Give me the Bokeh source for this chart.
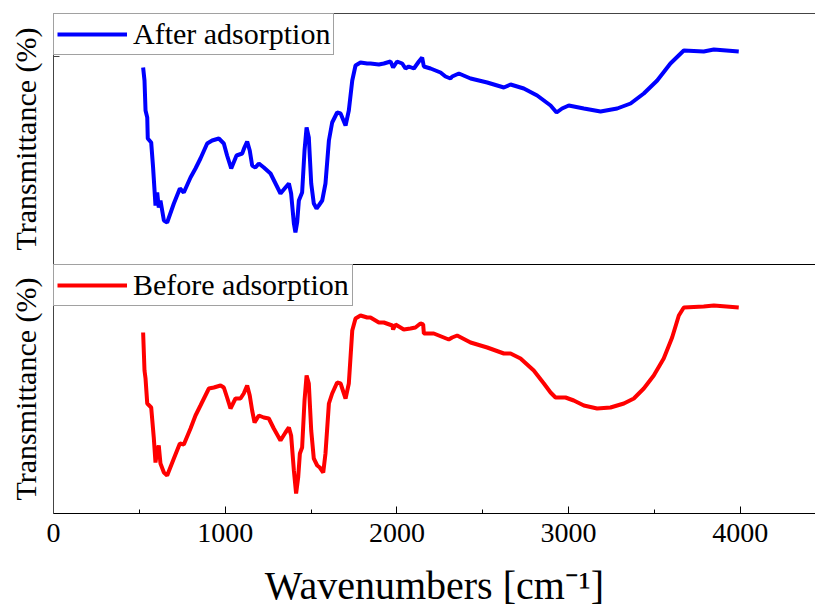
from bokeh.plotting import figure
from bokeh.layouts import column
from bokeh.models import Range1d, LinearAxis, FixedTicker
from bokeh.embed import file_html
from bokeh.resources import INLINE

# ---- data ----
after_wn = [522, 530, 536, 546, 549, 569, 580, 594, 604, 613, 623, 643, 662, 701, 736, 759,
            798, 827, 856, 895, 924, 963, 992, 1011, 1035, 1066, 1099, 1112, 1128, 1143, 1157,
            1176, 1196, 1225, 1264, 1293, 1322, 1351, 1371, 1384, 1400, 1409, 1419, 1429, 1448,
            1462, 1474, 1487, 1501, 1516, 1532, 1545, 1565, 1584, 1604, 1623, 1652, 1672, 1701,
            1720, 1740, 1759, 1788, 1827, 1846, 1895, 1924, 1963, 1978, 2001, 2031, 2050, 2069,
            2099, 2128, 2147, 2157, 2196, 2254, 2283, 2312, 2322, 2361, 2429, 2526, 2623, 2662,
            2739, 2817, 2895, 2930, 2962, 3001, 3089, 3186, 3283, 3361, 3438, 3516, 3593, 3671,
            3787, 3846, 3991]
after_t = [197, 184, 154, 147, 126, 122, 97, 59, 72, 57, 64, 44, 42, 61, 76, 72,
           87, 96, 106, 121, 124, 126, 121, 109, 96, 109, 111, 117, 123, 114, 99,
           97, 101, 97, 91, 81, 71, 77, 81, 71, 41, 32, 42, 64, 72,
           114, 137, 127, 81, 61, 56, 59, 64, 81, 124, 142, 152, 151, 139,
           154, 184, 199, 202, 201, 201, 200, 201, 203, 197, 203, 201, 196, 198,
           196, 203, 207, 198, 196, 192, 188, 186, 188, 191, 186, 182, 177, 180,
           176, 169, 159, 152, 156, 159, 156, 153, 156, 161, 171, 184, 201, 214,
           213, 215, 213]

before_wn = [522, 530, 536, 546, 569, 584, 594, 604, 613, 623, 643, 662, 701, 736, 759,
             798, 827, 856, 905, 934, 973, 992, 1011, 1031, 1060, 1089, 1108, 1128, 1143,
             1157, 1171, 1196, 1225, 1254, 1283, 1322, 1351, 1371, 1384, 1400, 1413, 1425,
             1435, 1448, 1462, 1474, 1487, 1501, 1516, 1536, 1551, 1571, 1584, 1604, 1623,
             1652, 1672, 1701, 1720, 1740, 1759, 1788, 1827, 1846, 1895, 1924, 1973, 1978,
             1992, 2040, 2079, 2108, 2137, 2153, 2157, 2215, 2273, 2302, 2322, 2351, 2429,
             2526, 2623, 2662, 2720, 2797, 2856, 2895, 2924, 2953, 2982, 3030, 3089, 3166,
             3244, 3322, 3380, 3438, 3496, 3554, 3603, 3642, 3671, 3787, 3846, 3991]
before_t = [181, 143, 135, 110, 106, 76, 51, 63, 68, 50, 41, 38, 55, 70, 69,
            85, 98, 108, 125, 126, 128, 126, 116, 105, 115, 115, 120, 128, 118,
            103, 91, 98, 96, 95, 85, 73, 81, 86, 78, 43, 20, 36,
            60, 66, 113, 138, 130, 83, 55, 48, 46, 41, 60, 110, 120,
            131, 130, 115, 130, 183, 195, 198, 196, 196, 191, 191, 188, 184,
            189, 184, 185, 186, 190, 189, 180, 180, 176, 174, 176, 178, 171,
            166, 160, 160, 155, 143, 130, 121, 116, 116, 116, 113, 108, 105,
            106, 110, 115, 125, 138, 155, 176, 198, 206, 207, 208, 206]

x_ticks = [0, 1000, 2000, 3000, 4000]
x_minor = [500, 1500, 2500, 3500]

FONT = "Liberation Serif"
xr = Range1d(0, 4438)


def style_panel(p, tick, border_color):
    p.xgrid.visible = False
    p.ygrid.visible = False
    p.outline_line_color = None
    p.background_fill_color = "white"
    p.border_fill_color = "white"
    ya = p.yaxis[0]
    ya.ticker = FixedTicker(ticks=[tick])
    ya.major_tick_in = 6
    ya.major_tick_out = 0
    ya.minor_tick_in = 0
    ya.minor_tick_out = 0
    ya.major_label_overrides = {tick: " "}
    ya.major_label_text_font_size = "1px"
    ya.major_label_standoff = 0
    ya.axis_label = "Transmittance (%)"
    ya.axis_label_text_font = FONT
    ya.axis_label_text_font_size = "30px"
    ya.axis_label_text_font_style = "normal"
    ya.axis_label_text_color = "black"
    ya.axis_label_standoff = 8
    ya.axis_line_color = "#444444"
    ya.major_tick_line_color = "#444444"
    top = LinearAxis(ticker=FixedTicker(ticks=[]), axis_line_color=border_color,
                     major_tick_out=0, major_tick_in=0, minor_tick_in=0, minor_tick_out=0)
    p.add_layout(top, "above")


def style_legend(p):
    lg = p.legend[0]
    lg.location = "top_left"
    lg.margin = 0
    lg.padding = 3
    lg.spacing = 0
    lg.glyph_width = 70
    lg.glyph_height = 30
    lg.label_standoff = 6
    lg.label_text_font = FONT
    lg.label_text_font_size = "30px"
    lg.label_text_color = "black"
    lg.border_line_color = "#444444"
    lg.border_line_width = 1
    lg.background_fill_alpha = 1


p1 = figure(frame_width=762, frame_height=251, min_border_left=53, min_border_right=0,
            min_border_top=13, min_border_bottom=0, x_range=xr, y_range=Range1d(0, 251),
            x_axis_location=None, output_backend="svg", toolbar_location=None)
p1.line(after_wn, after_t, line_color="#0000FF", line_width=4, legend_label="After adsorption")
style_panel(p1, 208, "#444444")
style_legend(p1)

p2 = figure(frame_width=762, frame_height=249, min_border_left=53, min_border_right=0,
            min_border_top=0, min_border_bottom=102, x_range=xr, y_range=Range1d(0, 249),
            output_backend="svg", toolbar_location=None)
p2.line(before_wn, before_t, line_color="#FF0000", line_width=4, legend_label="Before adsorption")
xa = p2.below[0]
style_panel(p2, 210, "black")
style_legend(p2)

xa.ticker = FixedTicker(ticks=x_ticks, minor_ticks=x_minor)
xa.major_tick_in = 7
xa.major_tick_out = 0
xa.minor_tick_in = 4
xa.minor_tick_out = 0
xa.axis_line_color = "black"
xa.major_tick_line_color = "black"
xa.minor_tick_line_color = "black"
xa.major_label_text_font = FONT
xa.major_label_text_font_size = "28px"
xa.major_label_text_color = "black"
xa.major_label_standoff = 10
xa.axis_label = "Wavenumbers [cm\u207b\u00b9]"
xa.axis_label_text_font = FONT
xa.axis_label_text_font_size = "40px"
xa.axis_label_text_font_style = "normal"
xa.axis_label_text_color = "black"
xa.axis_label_standoff = 18

layout = column(p1, p2, spacing=0)
open("out.html", "w").write(file_html(layout, INLINE))
